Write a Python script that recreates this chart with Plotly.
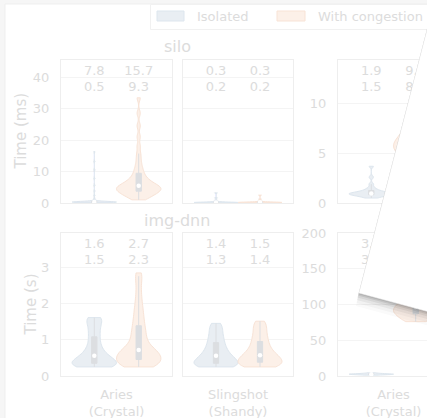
import numpy as np
import plotly.graph_objects as go

W, H = 427, 418
FONT = "DejaVu Sans"

# ---------------------------------------------------------------- data
series = ["Isolated", "With congestion"]
workloads = ["silo", "img-dnn"]
machines = ["Aries<br>(Crystal)", "Slingshot<br>(Shandy)", "Aries<br>(Crystal)"]
y_titles = ["Time (ms)", "Time (s)"]

# per-request latency samples, one list per violin
silo_aries_iso = [0.18, 0.2, 0.21, 0.22, 0.22, 0.23, 0.23, 0.24, 0.24, 0.25, 0.25, 0.25,
                  0.26, 0.26, 0.27, 0.27, 0.28, 0.28, 0.28, 0.29, 0.29, 0.3, 0.3, 0.31,
                  0.31, 0.32, 0.32, 0.33, 0.34, 0.35, 0.36, 0.37, 0.39, 0.42, 0.46, 0.52,
                  0.6, 0.75, 1.0, 1.5, 2.4, 3.8, 5.6, 7.8, 10.5, 13.2, 16.3]
silo_aries_cong = [1.0, 1.4, 1.8, 2.1, 2.4, 2.7, 2.9, 3.1, 3.3, 3.5, 3.7, 3.9, 4.0, 4.2,
                   4.4, 4.5, 4.7, 4.8, 5.0, 5.1, 5.3, 5.5, 5.7, 5.9, 6.1, 6.4, 6.7, 7.0,
                   7.4, 7.8, 8.3, 8.9, 9.6, 10.4, 11.3, 12.5, 14.0, 15.7, 18.0, 21.0, 24.5,
                   28.5, 33.4]
silo_sling_iso = [0.08, 0.1, 0.11, 0.12, 0.13, 0.14, 0.15, 0.15, 0.16, 0.17, 0.18, 0.19,
                  0.2, 0.21, 0.22, 0.23, 0.25, 0.28, 0.32, 0.4, 0.55, 0.9, 1.6, 3.2]
silo_sling_cong = [0.09, 0.11, 0.12, 0.13, 0.14, 0.15, 0.16, 0.17, 0.18, 0.19, 0.2, 0.21,
                   0.22, 0.23, 0.24, 0.26, 0.28, 0.31, 0.35, 0.45, 0.7, 1.2, 2.5]
r1c3_iso = [0.5, 0.6, 0.68, 0.74, 0.79, 0.83, 0.86, 0.89, 0.91, 0.93, 0.95, 0.98, 1.01,
            1.05, 1.1, 1.17, 1.26, 1.38, 1.55, 1.9, 2.6, 3.7]
r1c3_cong = [3.2, 4.0, 4.5, 4.9, 5.2, 5.4, 5.6, 5.8, 6.0, 6.2, 6.5, 6.8, 7.2, 7.7, 8.3,
             8.9, 9.6, 10.4]

imgdnn_aries_iso = [0.25, 0.25, 0.26, 0.27, 0.28, 0.29, 0.30, 0.32, 0.34, 0.36, 0.38, 0.40,
                    0.42, 0.44, 0.46, 0.48, 0.51, 0.54, 0.57, 0.61, 0.65, 0.70, 0.75, 0.81,
                    0.88, 0.96, 1.04, 1.12, 1.20, 1.28, 1.36, 1.43, 1.50, 1.56, 1.61, 1.61]
imgdnn_aries_cong = [0.25, 0.26, 0.27, 0.29, 0.30, 0.31, 0.33, 0.35, 0.36, 0.38, 0.41, 0.43,
                     0.44, 0.47, 0.49, 0.50, 0.53, 0.55, 0.56, 0.59, 0.60, 0.62, 0.65, 0.66,
                     0.68, 0.71, 0.72, 0.75, 0.79, 0.83, 0.88, 0.93, 0.98, 1.04, 1.10, 1.16,
                     1.22, 1.28, 1.35, 1.42, 1.50, 1.58, 1.67, 1.76, 1.86, 1.97, 2.10, 2.25,
                     2.42, 2.60, 2.75, 2.84]
imgdnn_sling_iso = [0.25, 0.25, 0.26, 0.27, 0.28, 0.29, 0.30, 0.31, 0.33, 0.35, 0.37, 0.39,
                    0.41, 0.43, 0.45, 0.47, 0.49, 0.51, 0.54, 0.57, 0.60, 0.63, 0.66, 0.70,
                    0.74, 0.78, 0.82, 0.87, 0.92, 0.97, 1.02, 1.08, 1.14, 1.20, 1.27, 1.34,
                    1.40, 1.45]
imgdnn_sling_cong = [0.25, 0.26, 0.27, 0.28, 0.29, 0.30, 0.32, 0.34, 0.36, 0.38, 0.40, 0.42,
                     0.44, 0.46, 0.48, 0.50, 0.52, 0.54, 0.56, 0.59, 0.62, 0.65, 0.68, 0.72,
                     0.76, 0.80, 0.85, 0.90, 0.95, 1.00, 1.06, 1.12, 1.18, 1.25, 1.32, 1.39,
                     1.45, 1.51]
r2c3_iso = [1.2, 1.6, 1.9, 2.1, 2.3, 2.4, 2.5, 2.6, 2.7, 2.9, 3.1, 3.4, 3.8, 4.5]
r2c3_cong = [76, 79, 82, 85, 87, 89, 91, 93, 95, 97, 99, 102, 105, 108, 112, 117, 123, 131]

# two summary numbers printed above each violin: [isolated, with congestion]
silo_aries_hi, silo_aries_lo = ["7.8", "15.7"], ["0.5", "9.3"]
silo_sling_hi, silo_sling_lo = ["0.3", "0.3"], ["0.2", "0.2"]
r1c3_hi, r1c3_lo = ["1.9", "9.6"], ["1.5", "8.4"]
imgdnn_aries_hi, imgdnn_aries_lo = ["1.6", "2.7"], ["1.5", "2.3"]
imgdnn_sling_hi, imgdnn_sling_lo = ["1.4", "1.5"], ["1.3", "1.4"]
r2c3_hi, r2c3_lo = ["3.9", ""], ["3.4", ""]

y_max = [[45.4, 45.4, 14.4], [3.94, 3.94, 200]]
y_ticks = [[[0, 10, 20, 30, 40], [0, 10, 20, 30, 40], [0, 5, 10]],
           [[0, 1, 2, 3], [0, 1, 2, 3], [0, 50, 100, 150, 200]]]

# ---------------------------------------------------------------- style
TXT = "#dcdcdc"
GRID = "#f4f4f4"
FRAME = "#eeeeee"
ISO_FILL, ISO_LINE = "#e9eef3", "#dde6ee"
CON_FILL, CON_LINE = "#fcf0e8", "#f8e3d6"
BOX = "#dcdee1"

COLS_PX = [(61, 172), (183, 293), (338, 449)]
ROWS_PX = [(60, 203), (233, 376)]


def px_x(px):
    return px / W


def px_y(py):
    return 1 - py / H


panels = [
    (0, 0, silo_aries_iso, silo_aries_cong, (0.2, 1.0), silo_aries_hi, silo_aries_lo),
    (0, 1, silo_sling_iso, silo_sling_cong, (0.1, 0.1), silo_sling_hi, silo_sling_lo),
    (0, 2, r1c3_iso, r1c3_cong, (0.15, 0.7), r1c3_hi, r1c3_lo),
    (1, 0, imgdnn_aries_iso, imgdnn_aries_cong, (0.12, 0.15), imgdnn_aries_hi, imgdnn_aries_lo),
    (1, 1, imgdnn_sling_iso, imgdnn_sling_cong, (0.12, 0.12), imgdnn_sling_hi, imgdnn_sling_lo),
    (1, 2, r2c3_iso, r2c3_cong, (0.5, 5.0), r2c3_hi, r2c3_lo),
]

fig = go.Figure()
layout = {}
tick_font = dict(family=FONT, size=13, color=TXT)

for r, c, iso, cong, bws, hi, lo in panels:
    k = r * 3 + c + 1
    xa = "x" if k == 1 else f"x{k}"
    ya = "y" if k == 1 else f"y{k}"
    x0p, x1p = COLS_PX[c]
    right = min(x1p, W)
    y0p, y1p = ROWS_PX[r]
    top = y_max[r][c]
    xpos = [-0.2, 0.2]

    for pos, data, bw, fill, line in [(xpos[0], iso, bws[0], ISO_FILL, ISO_LINE),
                                      (xpos[1], cong, bws[1], CON_FILL, CON_LINE)]:
        fig.add_trace(go.Violin(
            y=data, x0=pos, width=0.4, xaxis=xa, yaxis=ya,
            side="both", scalemode="width", spanmode="hard", bandwidth=bw,
            points=False, fillcolor=fill, line=dict(color=line, width=1),
            box=dict(visible=True, width=0.12, fillcolor=BOX,
                     line=dict(color=BOX, width=1)),
            meanline=dict(visible=False), hoverinfo="skip", showlegend=False))

    # white median dots
    fig.add_trace(go.Scatter(
        x=xpos, y=[float(np.median(iso)), float(np.median(cong))], mode="markers",
        marker=dict(color="white", size=4.5, line=dict(width=0)),
        xaxis=xa, yaxis=ya, hoverinfo="skip", showlegend=False))

    # summary numbers at the top of each panel
    ph = y1p - y0p
    for labels, off in [(hi, 12), (lo, 28)]:
        fig.add_trace(go.Scatter(
            x=xpos, y=[top * (1 - off / ph)] * 2, mode="text", text=labels,
            textposition="middle center", textfont=dict(family=FONT, size=13, color=TXT),
            xaxis=xa, yaxis=ya, hoverinfo="skip", showlegend=False))

    layout["xaxis" if k == 1 else f"xaxis{k}"] = dict(
        domain=[px_x(x0p), px_x(right)], range=[-0.5, -0.5 + (right - x0p) / (x1p - x0p)],
        type="linear", anchor=ya, tickvals=[0], ticktext=[machines[c]],
        showticklabels=(r == 1), showgrid=False, zeroline=False, showline=True,
        mirror=True, linecolor=FRAME, linewidth=1, ticks="", tickfont=tick_font,
        ticklabelstandoff=6, fixedrange=True)
    layout["yaxis" if k == 1 else f"yaxis{k}"] = dict(
        domain=[px_y(y1p), px_y(y0p)], range=[0, top], anchor=xa,
        tickvals=y_ticks[r][c], showticklabels=(c != 1), showgrid=True,
        gridcolor=GRID, gridwidth=1, zeroline=False, showline=True,
        mirror=(c != 2), linecolor=FRAME, linewidth=1, ticks="",
        tickfont=tick_font, ticklabelstandoff=8, fixedrange=True)

annotations = []
# workload titles over the left pair of panels
for r, name in enumerate(workloads):
    annotations.append(dict(
        x=px_x(177), y=px_y(ROWS_PX[r][0] - 13), xref="paper", yref="paper",
        text=name, showarrow=False, xanchor="center", yanchor="middle",
        font=dict(family=FONT, size=16, color=TXT)))
# y-axis titles
for r, (t, xc) in enumerate(zip(y_titles, [20, 30])):
    annotations.append(dict(
        x=px_x(xc), y=px_y((ROWS_PX[r][0] + ROWS_PX[r][1]) / 2), xref="paper", yref="paper",
        text=t, textangle=-90, showarrow=False, xanchor="center", yanchor="middle",
        font=dict(family=FONT, size=15, color=TXT)))
# legend labels
for name, xl in zip(series, [195, 316]):
    annotations.append(dict(
        x=px_x(xl), y=px_y(16.5), xref="paper", yref="paper", text=name,
        showarrow=False, xanchor="left", yanchor="middle",
        font=dict(family=FONT, size=13, color=TXT)))


def rect(x0, y0, x1, y1, **kw):
    return dict(type="rect", xref="paper", yref="paper",
                x0=px_x(x0), x1=px_x(x1), y0=px_y(y1), y1=px_y(y0), **kw)


def poly(points, **kw):
    d = "M " + " L ".join(f"{px_x(x):.5f},{px_y(y):.5f}" for x, y in points) + " Z"
    return dict(type="path", xref="paper", yref="paper", path=d, **kw)


shapes = [
    # white chart sheet on the grey page
    rect(5, 4, W + 20, H + 20, fillcolor="white", line=dict(color="#efefef", width=1),
         layer="below"),
    # legend frame and swatches
    rect(150.5, 4.5, 480, 29.5, fillcolor="white", line=dict(color="#f1f1f1", width=1),
         layer="above"),
    rect(157, 11, 184, 21, fillcolor=ISO_FILL, line=dict(color=ISO_LINE, width=1),
         layer="above"),
    rect(277, 11, 305, 21, fillcolor=CON_FILL, line=dict(color=CON_LINE, width=1),
         layer="above"),
]

# tilted paper note lying over the right-hand panels, with a soft drop shadow
bl = np.array([359.0, 293.0])
u = np.array([0.2586, -1.0])
v = np.array([1.0, 0.27])
card = [bl, bl + 340 * u, bl + 200 * v + 400 * u, bl + 200 * v]
for dx, dy, a in [(-3, 13, 0.025), (-2.5, 10, 0.04), (-2, 7, 0.06), (-1.5, 4.5, 0.08),
                  (-1, 2.5, 0.10), (-0.5, 1.2, 0.12)]:
    shift = np.array([dx, dy])
    shapes.append(poly([p + shift for p in card], fillcolor=f"rgba(40,40,40,{a})",
                       line=dict(width=0), layer="above"))
shapes.append(poly(card, fillcolor="#ffffff", line=dict(color="#f6f6f6", width=0.5),
                   layer="above"))

fig.update_layout(
    width=W, height=H, autosize=False,
    margin=dict(l=0, r=0, t=0, b=0, autoexpand=False),
    paper_bgcolor="#f6f6f6", plot_bgcolor="white",
    font=dict(family=FONT, color=TXT),
    showlegend=False, violinmode="overlay",
    annotations=annotations, shapes=shapes,
    **layout)

fig.write_html("out.html", config={"displayModeBar": False})
